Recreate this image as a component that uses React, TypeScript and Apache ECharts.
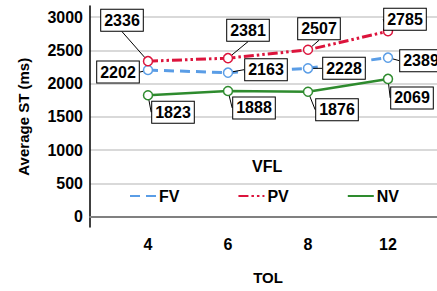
import React, { useEffect, useRef } from "react";
import * as echarts from "echarts";

const categories = ["4", "6", "8", "12"];
const fvValues = [2202, 2163, 2228, 2389];
const pvValues = [2336, 2381, 2507, 2785];
const nvValues = [1823, 1888, 1876, 2069];
const yTicks = [0, 500, 1000, 1500, 2000, 2500, 3000];

// label offsets (style only): [dx, dy] per series per point
const labelOffsets: number[][][] = [
  [[-30, 2], [38, -3], [36, 0], [33, 3]],
  [[-26, -41], [20, -28], [11, -21], [17, -12]],
  [[25, 17], [26, 17], [29, 18], [24, 19]],
];

const FONT = "'Liberation Sans', Arial, sans-serif";

export default function App() {
  const ref = useRef<HTMLDivElement>(null);
  useEffect(() => {
    if (!ref.current) return;
    const chart = echarts.init(ref.current, null, { renderer: "svg" });
    const mkSeries = (name: string, data: number[], color: string, lineType: any, width: number, idx: number) => ({
      name,
      type: "line",
      xAxisIndex: 2,
      yAxisIndex: 2,
      data,
      symbol: "circle",
      symbolSize: 9,
      itemStyle: { color: "#fff", borderColor: color, borderWidth: 1.5 },
      lineStyle: { color, width, type: lineType },
      z: 3 + idx,
      label: {
        show: true,
        position: "inside",
        color: "#000",
        fontFamily: FONT,
        fontWeight: "bold",
        fontSize: 16,
        backgroundColor: "#fff",
        borderColor: "#000",
        borderWidth: 1,
        padding: [3, 3, 2, 3],
        align: "center",
        verticalAlign: "middle",
      },
      labelLine: { show: true, lineStyle: { color: "#000", width: 1 } },
      labelLayout: (p: any) => {
        const o = labelOffsets[idx][p.dataIndex];
        return { dx: o[0], dy: o[1] };
      },
    });
    chart.setOption({
      animation: false,
      textStyle: { fontFamily: FONT },
      title: {
        text: "VFL",
        left: 247,
        top: 153,
        textStyle: { fontFamily: FONT, fontWeight: "bold", fontSize: 16, color: "#000" },
      },
      legend: {
        data: ["FV", "PV", "NV"],
        left: 124,
        top: 183,
        itemWidth: 26,
        itemHeight: 10,
        itemGap: 58,
        itemStyle: { color: "transparent", borderColor: "transparent", borderWidth: 0 },
        textStyle: { fontFamily: FONT, fontWeight: "bold", fontSize: 16, color: "#000", padding: [0, 0, 0, -2] },
      },
      grid: [
        { left: 90, right: -30, top: 6, bottom: 64 },
        { left: 90, right: -30, top: 17, bottom: 74.5 },
        { left: 108, width: 320, top: 17, bottom: 74.5 },
      ],
      xAxis: [
        {
          gridIndex: 0, type: "value", min: 0, max: 1,
          axisLine: { show: true, lineStyle: { color: "#808080", width: 2 } },
          axisTick: { show: false }, axisLabel: { show: false }, splitLine: { show: false },
        },
        {
          gridIndex: 1, type: "value", min: 0, max: 1, show: false,
        },
        {
          gridIndex: 2, type: "category", data: categories, boundaryGap: true,
          offset: 10.5,
          axisLine: { show: false }, axisTick: { show: false }, splitLine: { show: false },
          axisLabel: { color: "#000", fontFamily: FONT, fontWeight: "bold", fontSize: 16, margin: 9 },
          name: "TOL", nameLocation: "middle", nameGap: 43,
          nameTextStyle: { color: "#000", fontFamily: FONT, fontWeight: "bold", fontSize: 15 },
        },
      ],
      yAxis: [
        {
          gridIndex: 0, type: "value", min: -158, max: 3165,
          axisLine: { show: true, lineStyle: { color: "#000", width: 1.5 } },
          axisTick: { show: false }, axisLabel: { show: false }, splitLine: { show: false },
        },
        {
          gridIndex: 1, type: "value", min: yTicks[0], max: yTicks[yTicks.length - 1], interval: 500,
          axisLine: { show: false }, axisTick: { show: false },
          axisLabel: {
            color: "#000", fontFamily: FONT, fontWeight: "bold", fontSize: 16, margin: 7,
            formatter: (v: number) => String(v),
          },
          splitLine: { show: true, lineStyle: { color: "#cccccc", width: 1.5 } },
          name: "Average ST (ms)", nameLocation: "middle", nameGap: 59,
          nameTextStyle: { color: "#000", fontFamily: FONT, fontWeight: "bold", fontSize: 15 },
        },
        {
          gridIndex: 2, type: "value", min: yTicks[0], max: yTicks[yTicks.length - 1], show: false,
        },
      ],
      series: [
        mkSeries("FV", fvValues, "#5a9de6", [10, 6], 3, 0),
        mkSeries("PV", pvValues, "#dc143c", [10, 3, 2.5, 3, 2.5, 3], 3, 1),
        mkSeries("NV", nvValues, "#2e8b2e", "solid", 2.5, 2),
      ],
    });
    return () => chart.dispose();
  }, []);
  return <div ref={ref} style={{ width: 437, height: 291, position: "absolute", left: 0, top: 0 }} />;
}
